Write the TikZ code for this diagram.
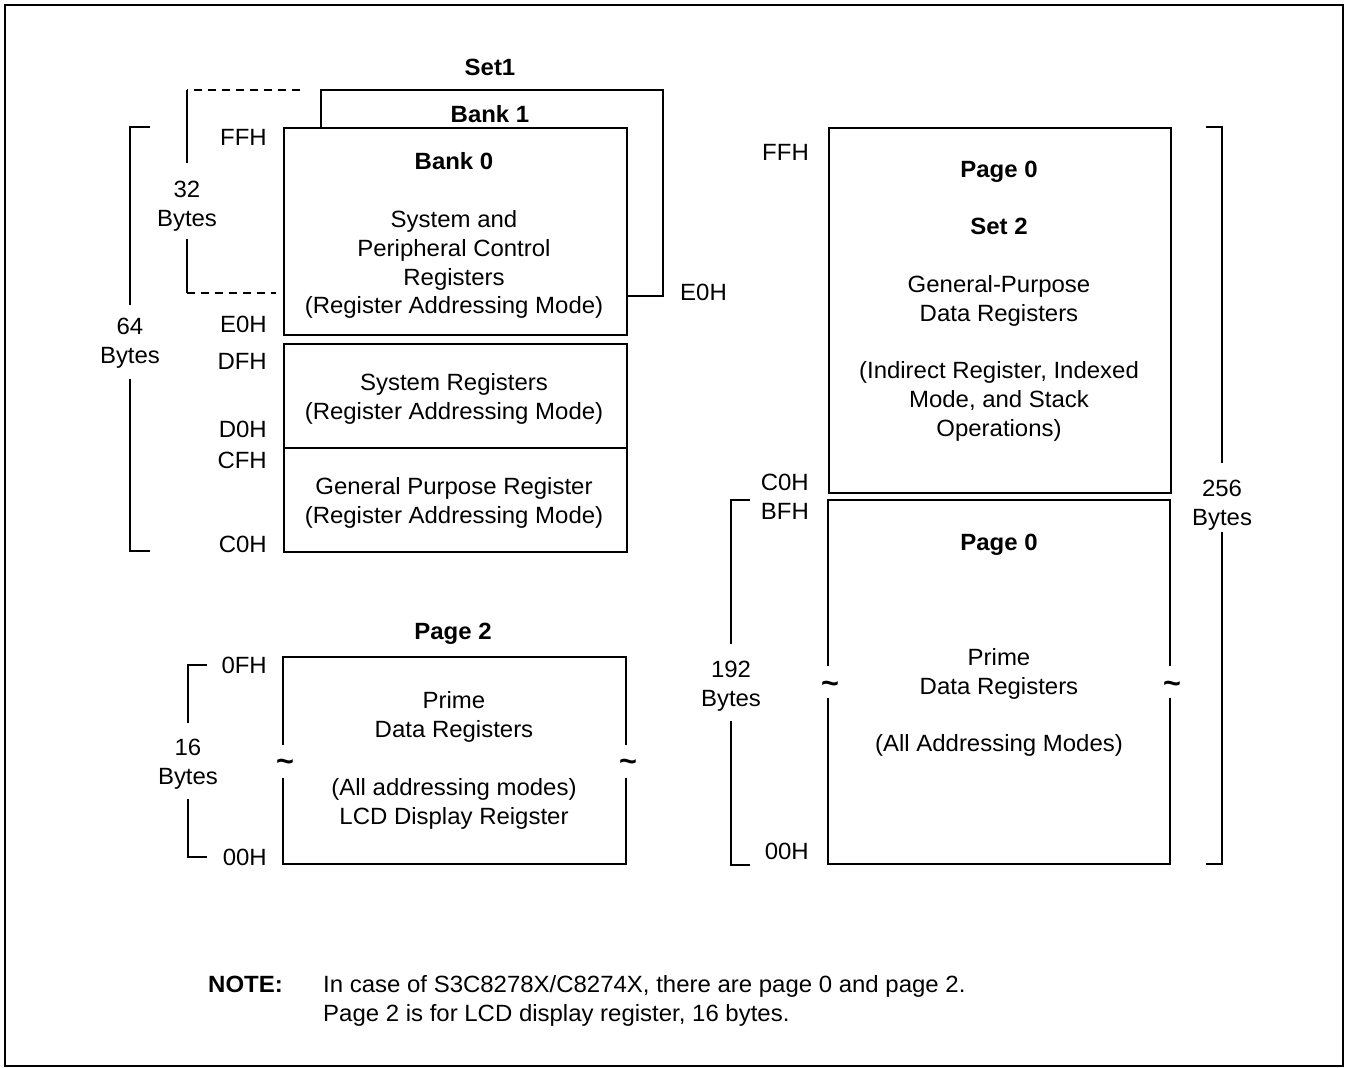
\documentclass[tikz,border=0pt]{standalone}
\usepackage{fontspec}
\setmainfont{Liberation Sans}[FakeStretch=1.02]
\usetikzlibrary{calc,positioning}

\tikzset{
  every node/.style={font=\fontsize{23.5}{28.8}\selectfont, inner sep=0pt},
  ttl/.style={font=\fontsize{23.5}{28.8}\selectfont\bfseries},
  membox/.style={draw, line width=1.8pt, minimum width=343pt, anchor=north west},
  memtxt/.style={align=center, anchor=north},
  hexlbl/.style={anchor=east},
  bytelbl/.style={align=center},
  brk/.style={line width=1.8pt},
  gapdash/.style={line width=1.8pt, dash pattern=on 8pt off 6pt},
  tld/.style={font=\fontsize{30}{30}\selectfont\bfseries},
}

\begin{document}
\begin{tikzpicture}[x=1pt,y=-1pt]
  \useasboundingbox (0,0) rectangle (1350,1068);
  \draw[line width=2pt] (5,5) rectangle (1343,1066);

  % set 1, bank 0 and bank 1
  \node[ttl] (set1) at (490,67) {Set1};
  \node[ttl] (bank1) at (490,114) {Bank 1};
  \node[membox, minimum height=207pt] (bank0) at (283,127) {};
  \coordinate (b1ne) at (663,90);
  \coordinate (b1se) at (663,296);
  \draw[brk] ([xshift=38pt]bank0.north west) |- (b1ne) -- (b1se) -- (b1se -| bank0.east);
  \node[memtxt] (bank0txt) at (454,152.6) {\textbf{Bank 0}\\[28.8pt]System and\\Peripheral Control\\Registers\\(Register Addressing Mode)};
  \node[anchor=west] (e0hr) at (680,292) {E0H};

  % system registers, general purpose
  \node[membox, minimum height=104pt] (sysreg) at (283,343) {};
  \node[membox, minimum height=104pt] (gpreg) at (283,447) {};
  \node[memtxt] (sysregtxt) at (454,373.6) {System Registers\\(Register Addressing Mode)};
  \node[memtxt] (gpregtxt) at (454,477.6) {General Purpose Register\\(Register Addressing Mode)};

  % left addresses
  \node[hexlbl] (lffh) at (267,137) {FFH};
  \node[hexlbl] (le0h) at (267,324) {E0H};
  \node[hexlbl] (ldfh) at (267,361) {DFH};
  \node[hexlbl] (ld0h) at (267,429) {D0H};
  \node[hexlbl] (lcfh) at (267,460) {CFH};
  \node[hexlbl] (lc0h) at (267,544) {C0H};
  \node[hexlbl] (l0fh) at (267,665) {0FH};
  \node[hexlbl] (l00h) at (267,857) {00H};

  % 32 and 64 bytes
  \node[bytelbl] (n32) at (187,205.85) {32\\Bytes};
  \draw[gapdash] (300,90) -- (187,90);
  \draw[brk, shorten >=18pt] (187,90) -- (n32.north);
  \draw[brk, shorten <=8pt] (n32.south) -- (187,293);
  \draw[gapdash] (187,293) -- (276,293);
  \node[bytelbl] (n64) at (130,342.85) {64\\Bytes};
  \draw[brk, shorten >=13pt] (150,127) -| (n64.north);
  \draw[brk, shorten <=11pt] (n64.south) |- (150,551);

  % page 2
  \node[ttl] (page2) at (453,634) {Page 2};
  \draw[brk] (283,745) |- (626,657) -- (626,745);
  \draw[brk] (283,778) |- (626,864) -- (626,778);
  \node[tld] (p2tl) at (285,765) {\textasciitilde};
  \node[tld] (p2tr) at (628,765) {\textasciitilde};
  \node[memtxt] (page2txt) at (454,691.6) {Prime\\Data Registers\\[28.8pt](All addressing modes)\\LCD Display Reigster};
  \node[bytelbl] (n16) at (188,763.85) {16\\Bytes};
  \draw[brk, shorten >=16pt] (207,665) -| (n16.north);
  \draw[brk, shorten <=10pt] (n16.south) |- (207,857);

  % page 0, set 2
  \node[membox, minimum width=342pt, minimum height=365pt] (pg0a) at (828,127) {};
  \node[memtxt] (pg0atxt) at (999,160.6) {\textbf{Page 0}\\[28.8pt]\textbf{Set 2}\\[28.8pt]General-Purpose\\Data Registers\\[28.8pt](Indirect Register, Indexed\\Mode, and Stack\\Operations)};

  % page 0, prime
  \draw[brk] (828,666) |- (1170,500) -- (1170,666);
  \draw[brk] (828,698) |- (1170,864) -- (1170,698);
  \node[tld] (p0tl) at (830,687) {\textasciitilde};
  \node[tld] (p0tr) at (1172,687) {\textasciitilde};
  \node[memtxt] (pg0btxt) at (999,533.6) {\textbf{Page 0}\\[86.4pt]Prime\\Data Registers\\[28.8pt](All Addressing Modes)};

  % right addresses
  \node[hexlbl] (rffh) at (809,152) {FFH};
  \node[hexlbl] (rc0h) at (809,482) {C0H};
  \node[hexlbl] (rbfh) at (809,511) {BFH};
  \node[hexlbl] (r00h) at (809,851) {00H};

  % 192 and 256 bytes
  \node[bytelbl] (n192) at (731,685.85) {192\\Bytes};
  \draw[brk, shorten >=17pt] (750,500) -| (n192.north);
  \draw[brk, shorten <=10pt] (n192.south) |- (750,865);
  \node[bytelbl] (n256) at (1222,504.85) {256\\Bytes};
  \draw[brk, shorten >=17pt] (1206,127) -| (n256.north);
  \draw[brk, shorten <=2pt] (n256.south) |- (1206,864);

  % note
  \node[ttl, anchor=base west] (notehd) at (208,992.4) {NOTE:};
  \node[anchor=base west] (note1) at (323,992.4) {In case of S3C8278X/C8274X, there are page 0 and page 2.};
  \node[anchor=base west] (note2) at (323,1021.4) {Page 2 is for LCD display register, 16 bytes.};
\end{tikzpicture}
\end{document}
